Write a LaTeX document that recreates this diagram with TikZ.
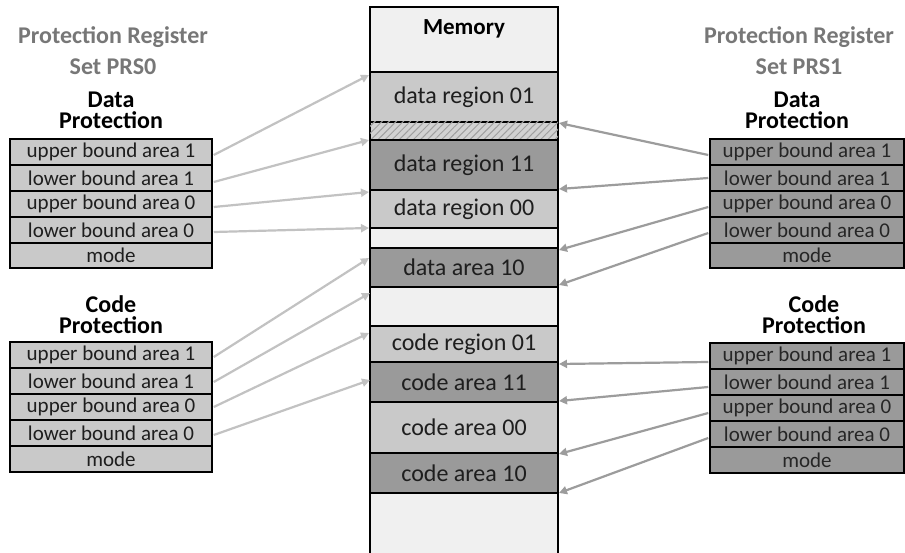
\documentclass[tikz,border=0pt]{standalone}
\usepackage{fontspec}
\setmainfont{Carlito}
\usetikzlibrary{arrows.meta,patterns.meta,calc}
\definecolor{lfill}{HTML}{C9C9C9}
\definecolor{dfill}{HTML}{9A9A9A}
\definecolor{bfill}{HTML}{F0F0F0}
\definecolor{hfill}{HTML}{D2D2D2}
\definecolor{hline}{HTML}{A0A0A0}
\definecolor{headgray}{HTML}{777777}
\definecolor{larrow}{HTML}{C2C2C2}
\definecolor{rarrow}{HTML}{9C9C9C}
\definecolor{txt}{HTML}{1E1E1E}
\tikzset{
  regrow/.style={draw=black, line width=1.5pt, inner sep=0pt, minimum height=26pt,
    font=\fontsize{21}{21}\selectfont, text=txt},
  lrow/.style={regrow, fill=lfill, minimum width=202pt},
  rrow/.style={regrow, fill=dfill, minimum width=194pt, text=black!85},
  memseg/.style={draw=black, line width=1.5pt, inner sep=0pt, minimum width=188pt,
    font=\fontsize{24}{24}\selectfont, text=txt},
  headg/.style={anchor=base, align=center, inner sep=0pt,
    font=\fontsize{24}{31}\selectfont\bfseries, text=headgray},
  headb/.style={anchor=base, align=center, inner sep=0pt,
    font=\fontsize{24}{21.5}\selectfont\bfseries, text=black},
  larr/.style={draw=larrow, line width=2.2pt, -{Triangle[length=8pt,width=8pt]}},
  rarr/.style={draw=rarrow, line width=2.2pt, -{Triangle[length=8pt,width=8pt]}},
}
\begin{document}
\begin{tikzpicture}[x=1pt,y=-1pt]
\useasboundingbox (0,0) rectangle (905,553);
\fill[white] (0,0) rectangle (905,553);

% ---------- headings (base = baseline of last line) ----------
\node[headg] (lh1) at (113,75) {Protection Register\\Set PRS0};
\node[headb] (lh3) at (111,129) {Data\\Protection};
\node[headb] (lh5) at (111,334) {Code\\Protection};

\node[headg] (rh1) at (799,75) {Protection Register\\Set PRS1};
\node[headb] (rh3) at (797,129) {Data\\Protection};
\node[headb] (rh5) at (814,334) {Code\\Protection};

% ---------- left registers ----------
\node[lrow] (LD1) at (111,152) {upper bound area 1};
\node[lrow] (LD2) at (111,178) {lower bound area 1};
\node[lrow] (LD3) at (111,204) {upper bound area 0};
\node[lrow] (LD4) at (111,230) {lower bound area 0};
\node[lrow, minimum height=25pt] (LD5) at (111,255.5) {mode};

\node[lrow] (LC1) at (111,355) {upper bound area 1};
\node[lrow] (LC2) at (111,381) {lower bound area 1};
\node[lrow] (LC3) at (111,407) {upper bound area 0};
\node[lrow] (LC4) at (111,433) {lower bound area 0};
\node[lrow] (LC5) at (111,459) {mode};

% ---------- right registers ----------
\node[rrow] (RD1) at (807,152) {upper bound area 1};
\node[rrow] (RD2) at (807,178) {lower bound area 1};
\node[rrow] (RD3) at (807,204) {upper bound area 0};
\node[rrow] (RD4) at (807,230) {lower bound area 0};
\node[rrow, minimum height=25pt] (RD5) at (807,255.5) {mode};

\node[rrow] (RC1) at (807,356) {upper bound area 1};
\node[rrow] (RC2) at (807,382) {lower bound area 1};
\node[rrow] (RC3) at (807,408) {upper bound area 0};
\node[rrow] (RC4) at (807,434) {lower bound area 0};
\node[rrow] (RC5) at (807,460) {mode};

% ---------- memory column ----------
\node[memseg, fill=bfill, minimum height=65pt] (M0) at (464,39.5) {};
\node[anchor=base, font=\fontsize{23}{23}\selectfont\bfseries, text=black] (Mlab) at (464,35) {Memory};
\node[memseg, fill=lfill, minimum height=50pt] (M1) at (464,97) {data region 01};
\node[memseg, fill=hfill, minimum height=18pt,
  postaction={pattern={Lines[angle=45,distance=5pt,line width=1pt]}, pattern color=hline}] (MH) at (464,131) {};
\node[memseg, fill=dfill, minimum height=50pt] (M2) at (464,165) {data region 11};
\node[memseg, fill=lfill, minimum height=38pt] (M3) at (464,209) {data region 00};
\node[memseg, fill=bfill, minimum height=20pt] (M4) at (464,238) {};
\node[memseg, fill=dfill, minimum height=39pt] (M5) at (464,267.5) {data area 10};
\node[memseg, fill=bfill, minimum height=39pt] (M6) at (464,306.5) {};
\node[memseg, fill=lfill, minimum height=36pt] (M7) at (464,344) {code region 01};
\node[memseg, fill=dfill, minimum height=40pt] (M8) at (464,382) {code area 11};
\node[memseg, fill=lfill, minimum height=51pt] (M9) at (464,427.5) {code area 00};
\node[memseg, fill=dfill, minimum height=40pt] (M10) at (464,473) {code area 10};
\node[memseg, fill=bfill, minimum height=70pt] (M11) at (464,528) {};

% ---------- arrow targets on memory edges ----------
\coordinate (tL1) at (369,75);
\coordinate (tL2) at (369,140);
\coordinate (tL3) at (369,192);
\coordinate (tL4) at (369,228);
\coordinate (tL5) at (369,258);
\coordinate (tL6) at (370,293);
\coordinate (tL7) at (369,333);
\coordinate (tL8) at (370,380);

\coordinate (tR1) at (559,123);
\coordinate (tR2) at (559,189);
\coordinate (tR3) at (559,250);
\coordinate (tR4) at (559,285);
\coordinate (tR5) at (559,364);
\coordinate (tR6) at (559,401);
\coordinate (tR7) at (559,454);
\coordinate (tR8) at (559,493);

% ---------- left arrows ----------
\draw[larr] ($(LD1.east)+(1,3)$) -- (tL1);
\draw[larr] ($(LD2.east)+(1,4)$) -- (tL2);
\draw[larr] ($(LD3.east)+(1,3)$) -- (tL3);
\draw[larr] ($(LD4.east)+(1,2)$) -- (tL4);
\draw[larr] ($(LC1.east)+(1,2)$) -- (tL5);
\draw[larr] ($(LC2.east)+(1,1)$) -- (tL6);
\draw[larr] ($(LC3.east)+(1,0)$) -- (tL7);
\draw[larr] ($(LC4.east)+(1,2)$) -- (tL8);

% ---------- right arrows ----------
\draw[rarr] ($(RD1.west)+(-1,3)$) -- (tR1);
\draw[rarr] ($(RD2.west)+(-1,0)$) -- (tR2);
\draw[rarr] ($(RD3.west)+(-1,3)$) -- (tR3);
\draw[rarr] ($(RD4.west)+(-1,3)$) -- (tR4);
\draw[rarr] ($(RC1.west)+(-1,6)$) -- (tR5);
\draw[rarr] ($(RC2.west)+(-1,5)$) -- (tR6);
\draw[rarr] ($(RC3.west)+(-1,5)$) -- (tR7);
\draw[rarr] ($(RC4.west)+(-1,4)$) -- (tR8);
\end{tikzpicture}
\end{document}
